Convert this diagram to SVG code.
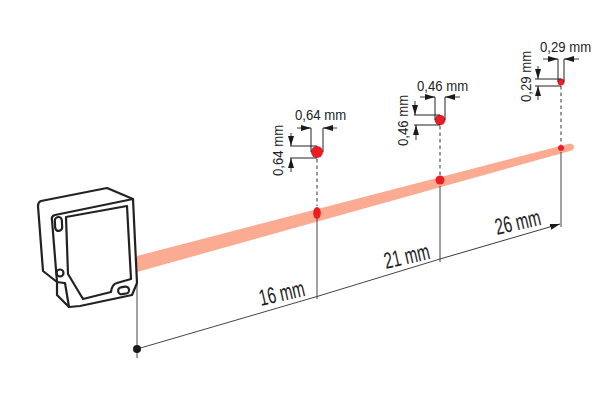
<svg xmlns="http://www.w3.org/2000/svg" width="600" height="400" viewBox="0 0 600 400">
<defs>
<marker id="ah" viewBox="0 0 10 6" refX="10" refY="3" markerWidth="10" markerHeight="6" markerUnits="userSpaceOnUse" orient="auto"><path d="M0 0L10 3L0 6Z" fill="#1a1a1a"/></marker>
</defs>
<style>
.t{font-family:"Liberation Sans",Arial,sans-serif;fill:#222}
.s{font-size:14px}
.b{font-size:23px}
.l{fill:none;stroke:#222;stroke-width:1}
.ar{fill:none;stroke:#222;stroke-width:.9;marker-end:url(#ah)}
.d{fill:none;stroke:#333;stroke-width:1;stroke-dasharray:3.5 3}
.g{fill:none;stroke:#444;stroke-width:1}
.o{fill:none;stroke:#222;stroke-width:2.200;stroke-linejoin:round;stroke-linecap:round}
.r{fill:#ed1c24}
</style>
<g id="beam"><path d="M137 256L570 143.500Q574 144 574 147Q574 150 570 151L137 272Z" fill="#fbab92"/></g>
<g id="connectors">
<path class="g" d="M137 284V358"/>
<path class="g" d="M317 219V299"/>
<path class="g" d="M440 186V262"/>
<path class="g" d="M561 152V227"/>
<path class="d" d="M317 159V206"/>
<path class="d" d="M440 126V175"/>
<path class="d" d="M561 86V145"/>
<path class="g" d="M137 349L317 296.500L440 259"/>
<path class="ar" d="M440 259L560 224"/>
</g>
<g id="sensor">
<path class="o" d="M41 201L107 188L133 199L137 283L132 295L80 306L69 307L57 295L57 282L43 271L38 206Q38 202 41 201Z"/>
<path class="o" d="M133 199L55 215Q51 216 52 220L57 282L64 283M65 283L69 307"/>
<path class="o" d="M66 217L127 206L131 279L117 283Q112 284 111 292L83 299L68 274Z"/>
<rect class="o" x="55" y="217" width="7" height="14" rx="3.500" transform="rotate(-3 58 224)"/>
<circle class="o" cx="60" cy="273" r="3.500"/>
<rect class="o" x="118" y="287" width="11" height="7" rx="3.500" transform="rotate(-10 123 290)"/>
</g>
<g id="spot-16">
<ellipse class="r" cx="317" cy="213" rx="3.800" ry="6"/>
<circle class="r" cx="317" cy="152" r="6"/>
<path class="l" d="M290 146H317M290 158H317M311 152V128M323 152V128"/>
<path class="ar" d="M291 133V146"/>
<path class="ar" d="M291 172V158"/>
<path class="ar" d="M297 128H311"/>
<path class="ar" d="M337 128H323"/>
<text class="t s" transform="translate(295 120) scale(.94 1)">0,64 mm</text>
<text class="t s" transform="translate(283 176) rotate(-90) scale(.94 1)">0,64 mm</text>
</g>
<g id="spot-21">
<circle class="r" cx="440" cy="180" r="4.500"/>
<circle class="r" cx="440" cy="120" r="5.300"/>
<path class="l" d="M414 115H440M414 125H440M435 120V97M445 120V97"/>
<path class="ar" d="M415 101V115"/>
<path class="ar" d="M416 140V125"/>
<path class="ar" d="M420 97H435"/>
<path class="ar" d="M460 97H445"/>
<text class="t s" transform="translate(417 91) scale(.94 1)">0,46 mm</text>
<text class="t s" transform="translate(408 146) rotate(-90) scale(.94 1)">0,46 mm</text>
</g>
<g id="spot-26">
<circle class="r" cx="561" cy="148" r="3"/>
<circle class="r" cx="561" cy="82" r="3.400"/>
<path class="l" d="M535 79H561M535 86H561M558 82V59M564 82V59"/>
<path class="ar" d="M538 66V79"/>
<path class="ar" d="M538 100V86"/>
<path class="ar" d="M543 59H558"/>
<path class="ar" d="M579 59H564"/>
<text class="t s" transform="translate(540 52) scale(.94 1)">0,29 mm</text>
<text class="t s" transform="translate(531 102) rotate(-90) scale(.94 1)">0,29 mm</text>
</g>
<g id="origin"><circle cx="137" cy="349" r="4" fill="#1a1a1a"/></g>
<g id="labels">
<text class="t b" transform="translate(261 306) rotate(-13) scale(.66 1)">16 mm</text>
<text class="t b" transform="translate(386 269) rotate(-13) scale(.66 1)">21 mm</text>
<text class="t b" transform="translate(497 235) rotate(-13) scale(.66 1)">26 mm</text>
</g>
</svg>
